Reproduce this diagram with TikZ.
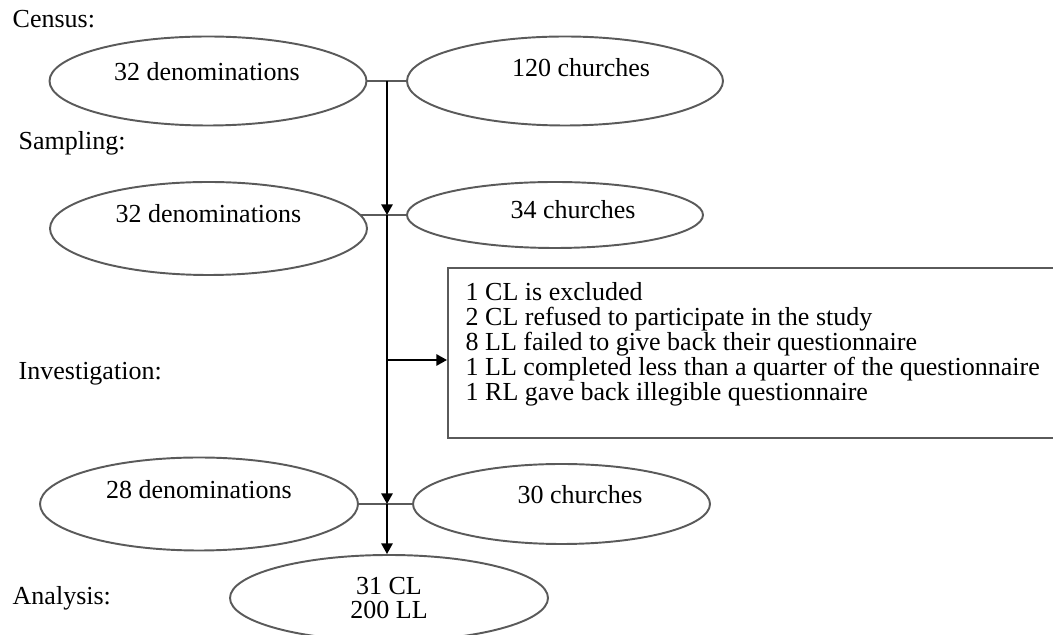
\documentclass[tikz,border=0pt]{standalone}
\usepackage{fontspec}
\setmainfont{Liberation Serif}
\usepackage{xcolor}
\usepackage{tikz}
\usetikzlibrary{arrows.meta,positioning,shapes.geometric}
\definecolor{outline}{HTML}{5A5A5A}

\begin{document}
\begin{tikzpicture}[x=1cm,y=1cm,font=\fontsize{7.4}{7.1}\selectfont,
  oval/.style={ellipse,draw=outline,line width=0.55pt,inner sep=0pt},
  stage/.style={anchor=base west,inner sep=0pt},
  link/.style={draw=outline,line width=0.55pt},
  flow/.style={-{Triangle[length=3pt,width=3.2pt]},line width=0.5pt}]
  \clip (0,0) rectangle (10.53,6.35);
  \node[stage] (census) at (0.12,6.07) {Census:};
  \node[stage] (sampling) at (0.18,4.85) {Sampling:};
  \node[stage] (investigation) at (0.18,2.55) {Investigation:};
  \node[stage] (analysis) at (0.12,0.30) {Analysis:};
  \node[oval,minimum width=3.17cm,minimum height=0.89cm] (den1) at (2.08,5.54) {};
  \node[oval,minimum width=3.16cm,minimum height=0.89cm] (chu1) at (5.65,5.54) {};
  \node[oval,minimum width=3.17cm,minimum height=0.93cm] (den2) at (2.085,4.065) {};
  \node[oval,minimum width=2.96cm,minimum height=0.66cm] (chu2) at (5.55,4.20) {};
  \node[oval,minimum width=3.18cm,minimum height=0.93cm] (den3) at (1.99,1.31) {};
  \node[oval,minimum width=2.97cm,minimum height=0.80cm] (chu3) at (5.615,1.31) {};
  \node[oval,minimum width=3.18cm,minimum height=0.86cm,align=center] (res) at (3.89,0.37) {31 CL\\200 LL};
  \node (den1t) at ([xshift=-0.01cm,yshift=0.09cm]den1) {32 denominations};
  \node (chu1t) at ([xshift=0.16cm,yshift=0.13cm]chu1) {120 churches};
  \node (den2t) at ([yshift=0.15cm]den2) {32 denominations};
  \node (chu2t) at ([xshift=0.18cm,yshift=0.05cm]chu2) {34 churches};
  \node (den3t) at ([yshift=0.14cm]den3) {28 denominations};
  \node (chu3t) at ([xshift=0.185cm,yshift=0.09cm]chu3) {30 churches};
  % exclusions
  \node[draw=outline,line width=0.55pt,inner sep=0pt,minimum width=6.2cm,minimum height=1.70cm,anchor=north west] (excl) at (4.47,3.68) {};
  \node[anchor=north west,align=left,inner sep=0pt] (exclt) at ([xshift=0.18cm,yshift=-0.15cm]excl.north west)
    {1 CL is excluded\\2 CL refused to participate in the study\\8 LL failed to give back their questionnaire\\1 LL completed less than a quarter of the questionnaire\\1 RL gave back illegible questionnaire};
  \coordinate (j1) at (3.87,5.54);
  \coordinate (j2) at (3.87,2.75);
  \draw[link] (den1.east) -- (chu1.west);
  \draw[link] (chu2.west) -- (chu2.west -| den2.5);
  \draw[link] (den3.east) -- (chu3.west);
  \draw[flow] (j1) -- (j1 |- chu2.west);
  \draw[flow] (j1 |- chu2.west) -- (j1 |- chu3.west);
  \draw[flow] (j1 |- chu3.west) -- (j1 |- res.north);
  \draw[flow] (j2) -- (j2 -| excl.west);
\end{tikzpicture}
\end{document}
